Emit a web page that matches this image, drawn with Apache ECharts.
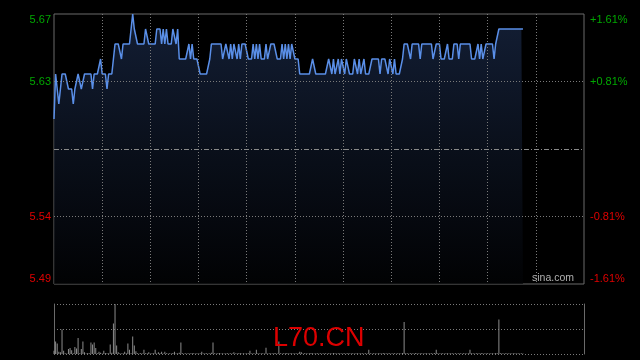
<!DOCTYPE html>
<html>
<head>
<meta charset="utf-8">
<style>
html,body{margin:0;padding:0;background:#000;}
#chart{width:640px;height:360px;}
</style>
<script src="https://cdn.jsdelivr.net/npm/echarts@6/dist/echarts.min.js"></script>
</head>
<body>
<div id="chart"></div>
<script>
// ---- data ----
const priceData = [
5.60,5.63,5.62,5.61,5.62,5.63,5.63,5.63,5.63,5.62,
5.62,5.62,5.61,5.62,5.62,5.63,5.63,5.62,5.62,5.63,
5.63,5.63,5.63,5.63,5.62,5.63,5.63,5.63,5.63,5.64,
5.63,5.63,5.63,5.62,5.63,5.63,5.63,5.64,5.65,5.65,
5.65,5.65,5.64,5.65,5.65,5.65,5.65,5.65,5.66,5.67,
5.66,5.66,5.65,5.65,5.65,5.65,5.65,5.66,5.66,5.65,
5.65,5.65,5.65,5.65,5.66,5.66,5.66,5.65,5.66,5.65,
5.66,5.65,5.65,5.65,5.66,5.66,5.65,5.66,5.64,5.64,
5.64,5.64,5.64,5.64,5.65,5.64,5.65,5.64,5.64,5.64,
5.64,5.63,5.63,5.63,5.63,5.63,5.63,5.64,5.65,5.65,
5.65,5.65,5.65,5.65,5.65,5.64,5.64,5.65,5.65,5.64,
5.65,5.64,5.65,5.65,5.64,5.65,5.64,5.65,5.65,5.65,
5.65,5.64,5.64,5.64,5.65,5.64,5.65,5.64,5.65,5.64,
5.64,5.64,5.65,5.64,5.64,5.65,5.65,5.65,5.65,5.64,
5.64,5.64,5.65,5.64,5.65,5.64,5.65,5.64,5.65,5.65,
5.64,5.64,5.64,5.63,5.63,5.63,5.63,5.63,5.63,5.63,
5.63,5.64,5.64,5.63,5.63,5.63,5.63,5.63,5.63,5.63,
5.63,5.64,5.64,5.63,5.64,5.63,5.63,5.64,5.63,5.64,
5.64,5.63,5.64,5.64,5.63,5.63,5.63,5.64,5.64,5.63,
5.64,5.63,5.63,5.64,5.63,5.63,5.63,5.63,5.64,5.64,
5.64,5.64,5.64,5.63,5.64,5.64,5.64,5.64,5.63,5.64,
5.64,5.63,5.64,5.63,5.63,5.63,5.63,5.64,5.65,5.65,
5.65,5.65,5.64,5.65,5.65,5.65,5.65,5.65,5.64,5.65,
5.65,5.65,5.65,5.65,5.65,5.65,5.64,5.64,5.65,5.65,
5.65,5.64,5.64,5.64,5.64,5.65,5.64,5.64,5.64,5.65,
5.65,5.65,5.64,5.65,5.65,5.65,5.65,5.65,5.65,5.65,
5.64,5.64,5.64,5.64,5.65,5.64,5.65,5.64,5.64,5.65,
5.65,5.65,5.65,5.65,5.64,5.65,5.65,5.66,5.66,5.66,
5.66,5.66,5.66,5.66,5.66,5.66,5.66,5.66,5.66,5.66,
5.66,5.66,5.66
];
const volumeData = [
20,75,63,14,10,147,20,4,3,30,
36,22,5,42,33,96,4,30,75,10,
3,6,4,69,57,69,36,5,14,8,
3,20,6,4,5,57,8,183,300,51,
10,4,3,5,14,4,63,26,5,105,
51,16,4,3,6,3,26,5,4,10,
3,4,5,26,3,10,4,14,3,14,
5,3,4,3,6,14,3,4,8,69,
4,3,5,3,4,3,6,4,3,5,
3,4,14,3,4,5,3,4,8,69,
4,3,5,6,3,4,3,5,4,3,
4,3,10,3,4,5,6,3,4,3,
5,4,20,3,4,3,26,4,3,5,
4,3,38,3,5,4,3,6,4,3,
75,4,3,5,4,6,3,4,5,3,
4,3,5,14,10,3,4,5,3,4,
6,5,3,4,5,3,4,3,5,4,
3,5,4,3,6,4,3,5,4,3,
5,4,3,6,3,4,5,3,4,5,
3,4,5,3,4,3,26,4,3,5,
4,3,5,4,3,6,4,3,5,4,
3,5,4,3,4,5,3,6,192,5,
4,3,5,4,3,6,4,3,5,4,
3,4,5,3,4,5,3,6,26,4,
3,5,4,3,4,5,3,4,5,3,
4,3,5,4,3,5,4,3,4,26,
5,4,3,5,4,3,6,4,3,5,
4,3,5,4,3,6,4,207,5,4,
3,4,5,3,4,3,5,4,3,4,
3,4,3
];
const preClose = 5.58;
const priceMin = 5.49, priceMax = 5.67, priceStep = 0.045;
const priceTicks = ['5.49','5.54','','5.63','5.67'];
const pctTicks = ['-1.61%','-0.81%','','+0.81%','+1.61%'];
const gridLevels = [5.535, 5.625];
const volMax = 300;

// time slots 09:30-12:00, 13:01-16:00
const times = [];
function pad(n){return (n<10?'0':'')+n;}
for (let m = 9*60+30; m <= 12*60; m++) times.push(pad(Math.floor(m/60))+':'+pad(m%60));
for (let m = 13*60+1; m <= 16*60; m++) times.push(pad(Math.floor(m/60))+':'+pad(m%60));

const FONT = 'Liberation Sans, Arial, sans-serif';
const GREEN = '#00a800', RED = '#e00000';
function tickIdx(v){ return Math.round((Number(v)-priceMin)/priceStep); }
function tickColor(v){ return Number(v) > preClose ? GREEN : RED; }

const chart = echarts.init(document.getElementById('chart'), null, {renderer:'canvas'});
chart.setOption({
  animation: false,
  backgroundColor: '#000',
  grid: [
    {left:54, right:56, top:14, bottom:76, show:true, borderColor:'#6a6a6a', borderWidth:1, backgroundColor:'transparent'},
    {left:54, right:56, top:304, bottom:6, show:false}
  ],
  xAxis: [
    {type:'category', gridIndex:0, data:times, boundaryGap:false, z:5,
     axisLine:{show:false}, axisTick:{show:false}, axisLabel:{show:false},
     splitLine:{show:true, interval:function(i){return i%30===0 && i>0 && i<times.length-1;},
       lineStyle:{color:'#7a7a7a', type:[1,2], width:1}}},
    {type:'category', gridIndex:1, data:times, boundaryGap:false,
     axisLine:{show:false}, axisTick:{show:false}, axisLabel:{show:false}, splitLine:{show:false}}
  ],
  yAxis: [
    {type:'value', gridIndex:0, min:priceMin, max:priceMax, interval:priceStep, position:'left',
     axisLine:{show:false}, axisTick:{show:false}, splitLine:{show:false},
     axisLabel:{show:true, margin:3, fontSize:11, fontFamily:FONT,
       verticalAlignMaxLabel:'top', verticalAlignMinLabel:'bottom',
       formatter:function(v){return priceTicks[tickIdx(v)];}, color:tickColor}},
    {type:'value', gridIndex:0, min:priceMin, max:priceMax, interval:priceStep, position:'right',
     axisLine:{show:false}, axisTick:{show:false}, splitLine:{show:false},
     axisLabel:{show:true, margin:6, fontSize:11, fontFamily:FONT,
       verticalAlignMaxLabel:'top', verticalAlignMinLabel:'bottom',
       formatter:function(v){return pctTicks[tickIdx(v)];}, color:tickColor}},
    {type:'value', gridIndex:1, min:0, max:volMax, interval:volMax/2, position:'left',
     axisLine:{show:true, lineStyle:{color:'#6a6a6a'}}, axisTick:{show:false}, axisLabel:{show:false},
     splitLine:{show:true, lineStyle:{color:'#7a7a7a', type:[1,2]}}},
    {type:'value', gridIndex:1, min:0, max:volMax, interval:volMax/2, position:'right',
     axisLine:{show:true, lineStyle:{color:'#6a6a6a'}}, axisTick:{show:false}, axisLabel:{show:false},
     splitLine:{show:false}}
  ],
  series: [
    {type:'line', xAxisIndex:0, yAxisIndex:0, data:priceData, showSymbol:false, symbol:'none',
     lineStyle:{color:'#5a8fe8', width:1.5},
     areaStyle:{color:new echarts.graphic.LinearGradient(0,0,0,1,[
       {offset:0, color:'#1b2b4b'},{offset:0.5,color:'#0e1626'},{offset:1, color:'#020305'}])},
     markLine:{symbol:'none', silent:true, precision:4, label:{show:false},
       data:[
         {yAxis:preClose, lineStyle:{color:'#8a8a8a', type:[5,2,1,2], width:1}},
         {yAxis:gridLevels[0], lineStyle:{color:'#7a7a7a', type:[1,2], width:1}},
         {yAxis:gridLevels[1], lineStyle:{color:'#7a7a7a', type:[1,2], width:1}}
       ]}},
    {type:'bar', xAxisIndex:1, yAxisIndex:2, data:volumeData, barWidth:1,
     itemStyle:{color:'#8c8c8c'}}
  ],
  graphic: [
    {type:'text', left:532, top:273, z:10, style:{text:'sina.com', fill:'#b0b0b0', font:'10.5px '+FONT}},
    {type:'text', left:273, top:325, z:10, style:{text:'L70.CN', fill:'#dd0000', font:'27px '+FONT}}
  ]
});
</script>
</body>
</html>
